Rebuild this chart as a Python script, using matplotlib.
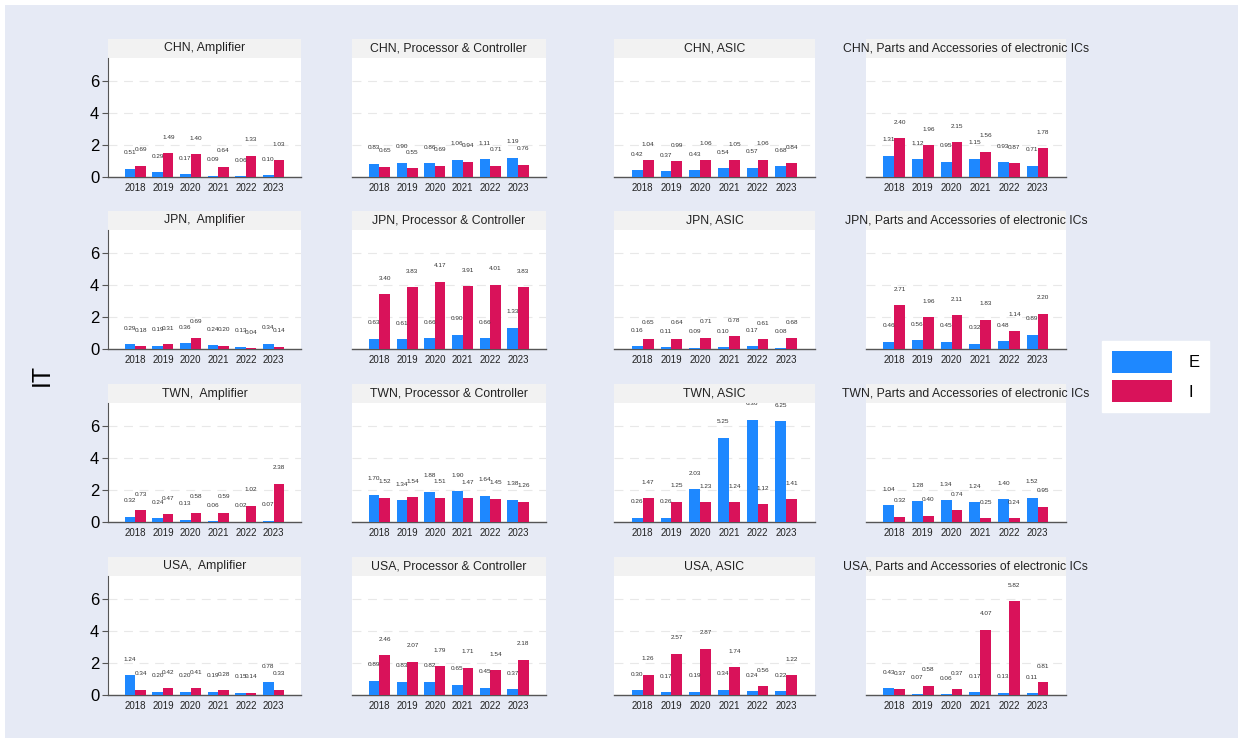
import matplotlib.pyplot as plt
import numpy as np
from matplotlib.patches import Rectangle, Patch

plt.rcParams['font.family'] = ['Liberation Sans', 'DejaVu Sans']

years = ['2018', '2019', '2020', '2021', '2022', '2023']
countries = ['CHN', 'JPN', 'TWN', 'USA']
products = ['Amplifier', 'Processor & Controller', 'ASIC',
            'Parts and Accessories of electronic ICs']

# E / I values per country, one list per product (same order as products)
chn_e = [[0.51, 0.29, 0.17, 0.09, 0.06, 0.10],
         [0.83, 0.90, 0.86, 1.06, 1.11, 1.19],
         [0.42, 0.37, 0.43, 0.54, 0.57, 0.68],
         [1.31, 1.12, 0.95, 1.15, 0.93, 0.71]]
chn_i = [[0.69, 1.49, 1.40, 0.64, 1.33, 1.03],
         [0.65, 0.55, 0.69, 0.94, 0.71, 0.76],
         [1.04, 0.99, 1.06, 1.05, 1.06, 0.84],
         [2.40, 1.96, 2.15, 1.56, 0.87, 1.78]]
jpn_e = [[0.29, 0.19, 0.36, 0.24, 0.13, 0.34],
         [0.63, 0.61, 0.66, 0.90, 0.66, 1.33],
         [0.16, 0.11, 0.09, 0.10, 0.17, 0.08],
         [0.46, 0.56, 0.45, 0.32, 0.48, 0.89]]
jpn_i = [[0.18, 0.31, 0.69, 0.20, 0.04, 0.14],
         [3.40, 3.83, 4.17, 3.91, 4.01, 3.83],
         [0.65, 0.64, 0.71, 0.78, 0.61, 0.68],
         [2.71, 1.96, 2.11, 1.83, 1.14, 2.20]]
twn_e = [[0.32, 0.24, 0.13, 0.06, 0.02, 0.07],
         [1.70, 1.34, 1.88, 1.90, 1.64, 1.38],
         [0.26, 0.26, 2.03, 5.25, 6.36, 6.25],
         [1.04, 1.28, 1.34, 1.24, 1.40, 1.52]]
twn_i = [[0.73, 0.47, 0.58, 0.59, 1.02, 2.38],
         [1.52, 1.54, 1.51, 1.47, 1.45, 1.26],
         [1.47, 1.25, 1.23, 1.24, 1.12, 1.41],
         [0.32, 0.40, 0.74, 0.25, 0.24, 0.95]]
usa_e = [[1.24, 0.20, 0.20, 0.19, 0.15, 0.78],
         [0.89, 0.83, 0.82, 0.65, 0.45, 0.37],
         [0.30, 0.17, 0.19, 0.34, 0.24, 0.22],
         [0.43, 0.07, 0.06, 0.17, 0.13, 0.11]]
usa_i = [[0.34, 0.42, 0.41, 0.28, 0.14, 0.33],
         [2.46, 2.07, 1.79, 1.71, 1.54, 2.18],
         [1.26, 2.57, 2.87, 1.74, 0.56, 1.22],
         [0.37, 0.58, 0.37, 4.07, 5.82, 0.81]]

E_all = [chn_e, jpn_e, twn_e, usa_e]
I_all = [chn_i, jpn_i, twn_i, usa_i]

blue = '#1e88ff'
red = '#d9125a'
bg = '#e6eaf5'

W, H = 1243, 743
fig = plt.figure(figsize=(W / 100, H / 100), dpi=100)
fig.patch.set_facecolor('white')
fig.patches.append(Rectangle((5 / W, 5 / H), 1 - 10 / W, 1 - 10 / H,
                             transform=fig.transFigure, facecolor=bg,
                             edgecolor='none', zorder=-10))

# panel boxes in pixels: column (left, width), row bottom edge
cols = [(107.7, 193.5), (351.7, 194), (614, 201), (865.5, 200.7)]
row_bottoms = [177, 349, 522, 695]
ph = 119
strip = 19

x = np.arange(len(years))
bw = 0.38

for r, c_name in enumerate(countries):
    for c, p_name in enumerate(products):
        left, width = cols[c]
        ax = fig.add_axes([left / W, (H - row_bottoms[r]) / H, width / W, ph / H])
        ax.set_facecolor('white')
        e = E_all[r][c]
        i = I_all[r][c]
        ax.bar(x - bw / 2, e, bw, color=blue, zorder=3)
        ax.bar(x + bw / 2, i, bw, color=red, zorder=3)
        for xs, vals in [(x - bw / 2, e), (x + bw / 2, i)]:
            for xv, v in zip(xs, vals):
                ax.annotate(f'{v:.2f}', (xv, v), xytext=(0, 11.5),
                            textcoords='offset points', ha='center',
                            va='center', fontsize=4.6, color='#333333',
                            annotation_clip=False, clip_on=True, zorder=4)
        ax.set_xlim(-1, 6)
        ax.set_ylim(0, 7.4)
        ax.set_yticks([0, 2, 4, 6])
        ax.grid(axis='y', color='#e8e8e8', linestyle=(0, (8, 6)), linewidth=0.8, zorder=0)
        ax.set_xticks(x)
        ax.set_xticklabels(years, fontsize=7, color='#222222')
        ax.tick_params(axis='x', length=0, pad=4)
        for s in ['top', 'right']:
            ax.spines[s].set_visible(False)
        ax.spines['bottom'].set_color('#555555')
        ax.spines['bottom'].set_linewidth(1.0)
        if c == 0:
            ax.spines['left'].set_color('#555555')
            ax.tick_params(axis='y', labelsize=12, length=4, color='#555555', pad=2)
        else:
            ax.spines['left'].set_visible(False)
            ax.tick_params(axis='y', left=False, labelleft=False)
        # title strip
        ax.add_patch(Rectangle((0, 1), 1, strip / ph, transform=ax.transAxes,
                               facecolor='#f2f2f2', edgecolor='none', clip_on=False))
        sep = ',  ' if (p_name == 'Amplifier' and c_name != 'CHN') else ', '
        ax.text(0.5, 1 + strip / ph / 2, c_name + sep + p_name, transform=ax.transAxes,
                ha='center', va='center', fontsize=8.8, color='#222222')

fig.text(42 / W, 1 - 375 / H, 'IT', rotation=90, fontsize=18,
         ha='center', va='center')

handles = [Patch(facecolor=blue, edgecolor='none', label='E'),
           Patch(facecolor=red, edgecolor='none', label='I')]
fig.legend(handles=handles, loc='center', bbox_to_anchor=(1155.5 / W, 1 - 376.5 / H),
           frameon=True, fancybox=False, edgecolor='white', facecolor='white',
           fontsize=12, handlelength=3.6, handleheight=1.65, handletextpad=1.0,
           labelspacing=0.45, borderpad=0.6, borderaxespad=0, framealpha=1)

plt.savefig('out.png', dpi=100, facecolor=fig.get_facecolor())
